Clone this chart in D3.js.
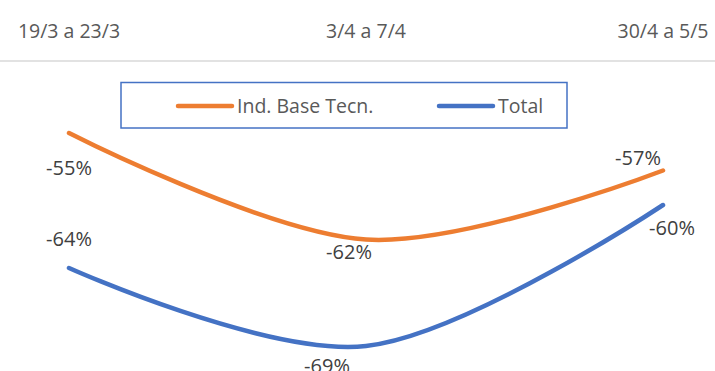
<!DOCTYPE html>
<html>
<head>
<meta charset="utf-8">
<script src="https://cdn.jsdelivr.net/npm/d3@7"></script>
<style>
  body { margin: 0; background: #fff; overflow: hidden; }
  svg { display: block; font-family: "Open Sans", "Noto Sans", sans-serif; }
</style>
</head>
<body>
<svg width="715" height="371"></svg>
<script>
// periods (category axis, drawn at the top)
var periods = ["19/3 a 23/3", "3/4 a 7/4", "30/4 a 5/5"];
// % change
var indBase = [-54.8, -61.9, -57.3];
var total = [-63.8, -69.0, -59.6];
var seriesNames = ["Ind. Base Tecn.", "Total"];
var seriesColors = ["#ED7D31", "#4472C4"];

var svg = d3.select("svg"),
    width = 715,
    height = 371;

var x = d3.scalePoint()
    .domain(periods)
    .range([69, 663]);

// axis sits at the top (-50%), values go down
var y = d3.scaleLinear()
    .domain([-50, -70])
    .range([61, 361]);

// category axis line + labels
svg.append("line")
    .attr("x1", 0).attr("x2", width)
    .attr("y1", y(-50)).attr("y2", y(-50))
    .attr("stroke", "#d9d9d9")
    .attr("stroke-width", 1.5);

svg.append("g").selectAll("text")
    .data(periods)
    .enter().append("text")
    .attr("x", function(d) { return x(d); })
    .attr("y", 38)
    .attr("text-anchor", "middle")
    .attr("fill", "#595959")
    .style("font-size", "19.5px")
    .text(function(d) { return d; });

var line = d3.line()
    .x(function(d, i) { return x(periods[i]); })
    .y(function(d) { return y(d); })
    .curve(d3.curveCardinal.tension(0));

var series = [indBase, total];

svg.append("g").selectAll("path")
    .data(series)
    .enter().append("path")
    .attr("d", line)
    .attr("fill", "none")
    .attr("stroke", function(d, i) { return seriesColors[i]; })
    .attr("stroke-width", 4.5)
    .attr("stroke-linecap", "round");

// data labels: [dx, dy] per point, relative to the point
// (the last one of Total is cut by the bottom edge, as in the original)
var labelOffsets = [
  [[0, 42], [-17, 19], [-25, -6]],
  [[0, -22], [-39, 27], [9, 30]]
];

var labels = svg.append("g");
series.forEach(function(s, si) {
  labels.selectAll(".lbl" + si)
    .data(s)
    .enter().append("text")
    .attr("class", "lbl" + si)
    .attr("x", function(d, i) { return x(periods[i]) + labelOffsets[si][i][0]; })
    .attr("y", function(d, i) { return y(d) + labelOffsets[si][i][1]; })
    .attr("text-anchor", "middle")
    .attr("fill", "#404040")
    .style("font-size", "20px")
    .text(function(d) { return Math.round(d) + "%"; });
});

// legend
var legend = svg.append("g");
legend.append("rect")
    .attr("x", 121).attr("y", 82.5)
    .attr("width", 446).attr("height", 45.5)
    .attr("fill", "#fff")
    .attr("stroke", "#4472C4")
    .attr("stroke-width", 1.5);

var legendX = [178, 439];
seriesNames.forEach(function(name, i) {
  legend.append("line")
    .attr("x1", legendX[i]).attr("x2", legendX[i] + 54)
    .attr("y1", 106).attr("y2", 106)
    .attr("stroke", seriesColors[i])
    .attr("stroke-width", 4.5)
    .attr("stroke-linecap", "round");
  legend.append("text")
    .attr("x", legendX[i] + 59)
    .attr("y", 113)
    .attr("fill", "#595959")
    .style("font-size", "19.5px")
    .text(name);
});
</script>
</body>
</html>
